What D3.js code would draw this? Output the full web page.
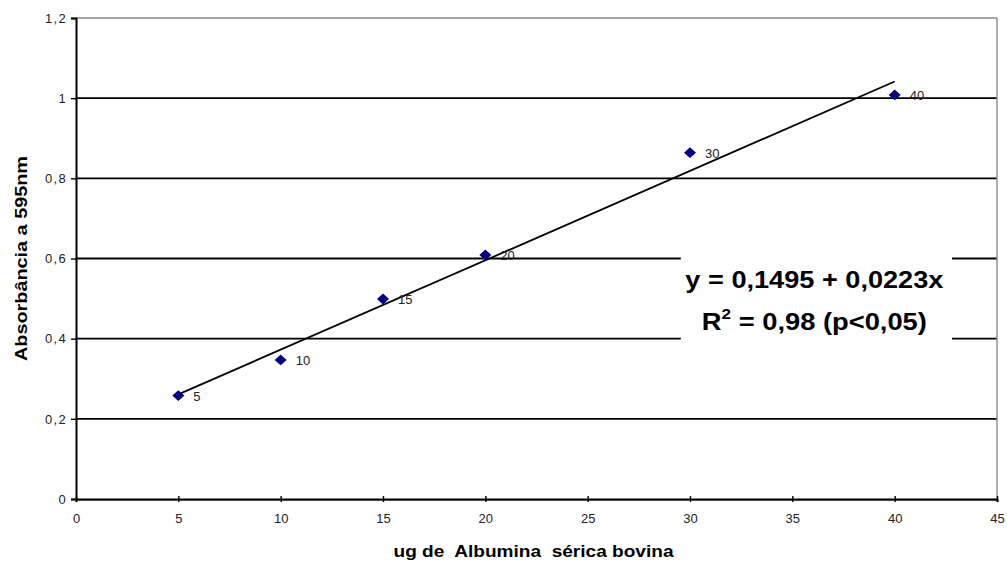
<!DOCTYPE html>
<html>
<head>
<meta charset="utf-8">
<script src="https://cdn.jsdelivr.net/npm/d3@7"></script>
<style>
  body { margin: 0; background: #fff; }
  svg { display: block; font-family: "Liberation Sans", Arial, sans-serif; }
</style>
</head>
<body>
<svg id="chart" width="1007" height="561"></svg>
<script>
// concentration (ug) and measured absorbance
const conc = [5, 10, 15, 20, 30, 40];
const absorb = [0.258, 0.347, 0.499, 0.609, 0.864, 1.008];
const pointLabels = ["5", "10", "15", "20", "30", "40"];

const xTicks = [0, 5, 10, 15, 20, 25, 30, 35, 40, 45];
const yTicks = [0, 0.2, 0.4, 0.6, 0.8, 1.0, 1.2];

// regression from the figure
const intercept = 0.1495;
const slope = 0.0223;
const eqLines = ["y = 0,1495 + 0,0223x", "R", " = 0,98 (p<0,05)"];

const svg = d3.select("#chart");
const pLeft = 76, pRight = 997, pTop = 18, pBottom = 499;

const x = d3.scaleLinear().domain([0, 45]).range([pLeft, pRight]);
const y = d3.scaleLinear().domain([0, 1.2]).range([pBottom, pTop]);

const fmt = d => String(d).replace(".", ",");

// grid lines
svg.append("g").selectAll("line")
  .data(yTicks.filter(d => d > 0))
  .join("line")
  .attr("x1", pLeft).attr("x2", pRight)
  .attr("y1", d => y(d)).attr("y2", d => y(d))
  .attr("stroke", d => d === 1.2 ? "#888" : "#000")
  .attr("stroke-width", d => d === 1.2 ? 1.6 : 1.8);

// right border
svg.append("line")
  .attr("x1", pRight).attr("x2", pRight)
  .attr("y1", pTop).attr("y2", pBottom)
  .attr("stroke", "#888").attr("stroke-width", 1.4);

// bottom border shadow
svg.append("line")
  .attr("x1", pLeft).attr("x2", pRight)
  .attr("y1", pBottom + 1.5).attr("y2", pBottom + 1.5)
  .attr("stroke", "#999").attr("stroke-width", 1);

// y axis
const yAxis = svg.append("g")
  .attr("transform", `translate(${pLeft},0)`)
  .call(d3.axisLeft(y).tickValues(yTicks).tickFormat(fmt).tickSize(5).tickPadding(4));
yAxis.select(".domain").attr("stroke", "#000").attr("stroke-width", 2);
yAxis.selectAll(".tick line").attr("stroke", "#000").attr("stroke-width", 1.4);
yAxis.selectAll("text")
  .attr("font-size", 13).attr("fill", "#222")
  .attr("letter-spacing", 1.3)
  .attr("font-family", "'Liberation Sans', Arial, sans-serif");

// x axis
const xAxis = svg.append("g")
  .attr("transform", `translate(0,${pBottom})`)
  .call(d3.axisBottom(x).tickValues(xTicks).tickSize(3).tickPadding(12));
xAxis.select(".domain").attr("stroke", "#000").attr("stroke-width", 2);
xAxis.selectAll(".tick line").attr("stroke", "#000").attr("stroke-width", 1.4).attr("y1", -3);
xAxis.selectAll("text")
  .attr("font-size", 13).attr("fill", "#222")
  .attr("font-family", "'Liberation Sans', Arial, sans-serif");

// trend line
const xExt = d3.extent(conc);
svg.append("path")
  .datum(xExt.map(v => [v, intercept + slope * v]))
  .attr("d", d3.line().x(d => x(d[0])).y(d => y(d[1])))
  .attr("fill", "none").attr("stroke", "#000").attr("stroke-width", 1.8);

// diamond markers, a bit wider than tall
const wideDiamond = {
  draw(ctx, size) {
    const w = Math.sqrt(size) / 2, h = w * 0.9;
    ctx.moveTo(0, -h); ctx.lineTo(w, 0); ctx.lineTo(0, h); ctx.lineTo(-w, 0); ctx.closePath();
  }
};
const pts = conc.map((c, i) => ({ c, a: absorb[i], label: pointLabels[i] }));
svg.append("g").selectAll("path")
  .data(pts)
  .join("path")
  .attr("d", d3.symbol().type(wideDiamond).size(144))
  .attr("transform", d => `translate(${x(d.c)},${y(d.a)})`)
  .attr("fill", "#000080");

svg.append("g").selectAll("text")
  .data(pts)
  .join("text")
  .attr("x", d => x(d.c) + 15)
  .attr("y", d => y(d.a) + 5)
  .attr("font-size", 13).attr("fill", "#222")
  .text(d => d.label);

// equation box
const box = { x0: 29.55, x1: 42.8, y0: 0.6, y1: 0.4 };
svg.append("rect")
  .attr("x", x(box.x0)).attr("y", y(box.y0) - 2)
  .attr("width", x(box.x1) - x(box.x0))
  .attr("height", y(box.y1) - y(box.y0) + 4)
  .attr("fill", "#fff");

const cx = (x(box.x0) + x(box.x1)) / 2 - 2;
svg.append("text")
  .attr("x", cx).attr("y", y(box.y0) + 29)
  .attr("text-anchor", "middle")
  .attr("font-size", 24).attr("font-weight", "bold").attr("fill", "#000")
  .attr("textLength", 258).attr("lengthAdjust", "spacingAndGlyphs")
  .text(eqLines[0]);

const t2 = svg.append("text")
  .attr("x", cx).attr("y", y(box.y0) + 71)
  .attr("text-anchor", "middle")
  .attr("font-size", 24).attr("font-weight", "bold").attr("fill", "#000")
  .attr("textLength", 225).attr("lengthAdjust", "spacingAndGlyphs");
t2.append("tspan").text(eqLines[1]);
t2.append("tspan").attr("dy", -11).attr("font-size", 15).text("2");
t2.append("tspan").attr("dy", 11).text(eqLines[2]);

// axis titles
svg.append("text")
  .attr("x", (pLeft + pRight) / 2 - 3).attr("y", 557)
  .attr("text-anchor", "middle")
  .attr("font-size", 16).attr("font-weight", "bold").attr("fill", "#000")
  .attr("xml:space", "preserve")
  .attr("textLength", 280).attr("lengthAdjust", "spacingAndGlyphs")
  .text("ug de  Albumina  sérica bovina");

svg.append("text")
  .attr("transform", `translate(27,${(pTop + pBottom) / 2}) rotate(-90)`)
  .attr("text-anchor", "middle")
  .attr("font-size", 16).attr("font-weight", "bold").attr("fill", "#000")
  .attr("textLength", 205).attr("lengthAdjust", "spacingAndGlyphs")
  .text("Absorbância a 595nm");
</script>
</body>
</html>
